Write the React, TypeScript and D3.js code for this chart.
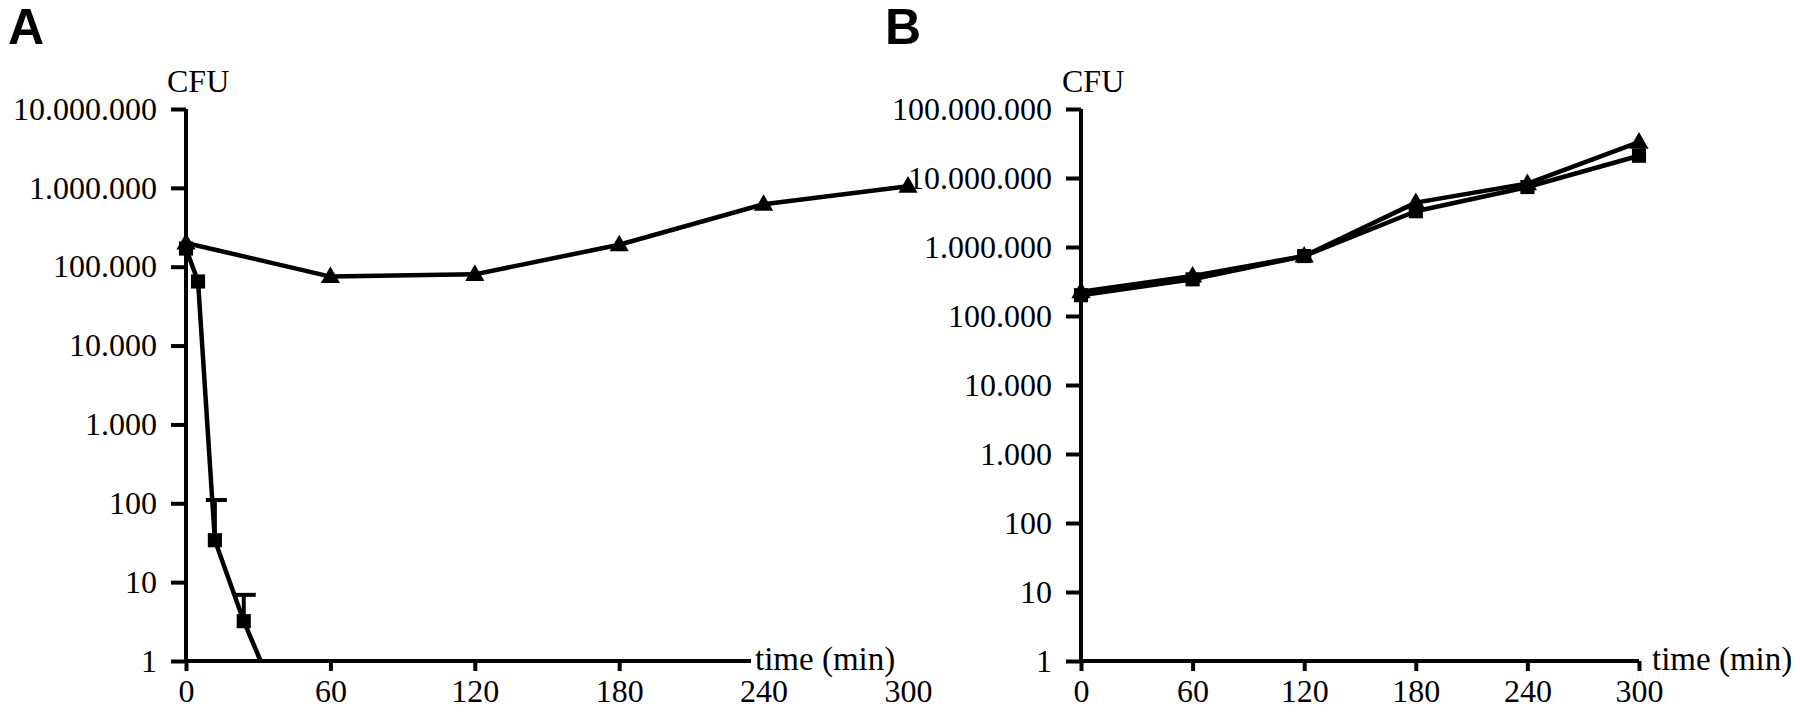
import * as d3 from "d3";
import { useEffect, useRef } from "react";

// x ticks (min) shared by both panels
const timeTicks = [0, 60, 120, 180, 240, 300];

// panel A
const triTimesA = [0, 60, 120, 180, 240, 300];
const triValuesA = [200000, 75000, 80000, 190000, 620000, 1050000];
const sqTimesA = [0, 5, 12, 24, 31];
const sqValuesA = [170000, 65000, 34, 3.2, 1];
const sqErrTopA = [0, 0, 110, 6.9, 0];
const yTicksA = [1, 10, 100, 1000, 10000, 100000, 1000000, 10000000];

// panel B
const timesB = [0, 60, 120, 180, 240, 300];
const triValuesB = [225000, 380000, 740000, 4400000, 8300000, 33000000];
const sqValuesB = [200000, 340000, 740000, 3300000, 7400000, 21000000];
const yTicksB = [1, 10, 100, 1000, 10000, 100000, 1000000, 10000000, 100000000];

const locale = d3.formatLocale({ decimal: ",", thousands: ".", grouping: [3], currency: ["", ""] });
const fmt = locale.format(",d");
const serif = "Liberation Serif, Times New Roman, serif";

export default function App() {
  const ref = useRef<SVGSVGElement>(null);

  useEffect(() => {
    const svg = d3.select(ref.current);
    svg.selectAll("*").remove();

    const top = 109, bottom = 661;

    function panel(opts: {
      letter: string; letterX: number; x0: number; x1: number; yMax: number; ticks: number[];
      timeX: number; knockout: boolean;
      series: { t: number[]; v: number[]; shape: string; err?: number[]; markN?: number }[];
    }) {
      const x = d3.scaleLinear().domain([0, 300]).range([opts.x0, opts.x1]);
      const y = d3.scaleLog().domain([1, opts.yMax]).range([bottom, top]);
      const g = svg.append("g");

      g.append("text").attr("x", opts.letterX).attr("y", 44)
        .attr("font-family", "Liberation Sans, Arial, sans-serif").attr("font-weight", "bold")
        .attr("font-size", 50).text(opts.letter);

      g.append("text").attr("x", opts.x0 - 19).attr("y", 92)
        .attr("font-family", serif).attr("font-size", 32).text("CFU");

      const ya = g.append("g").attr("transform", `translate(${opts.x0},0)`)
        .call(d3.axisLeft(y).tickValues(opts.ticks).tickSize(15).tickSizeOuter(0).tickPadding(14)
          .tickFormat(d => fmt(d as number)));
      const xa = g.append("g").attr("transform", `translate(0,${bottom})`)
        .call(d3.axisBottom(x).tickValues(timeTicks).tickSize(10).tickSizeOuter(0).tickPadding(8));

      [ya, xa].forEach(a => {
        a.select(".domain").attr("stroke", "#000").attr("stroke-width", 4);
        a.selectAll(".tick line").attr("stroke", "#000").attr("stroke-width", 4);
        a.selectAll(".tick text").attr("fill", "#000")
          .attr("font-family", serif).attr("font-size", 32);
      });
      ya.select(".domain").attr("d", `M0,${top}V${bottom + 2}`);
      xa.select(".domain").attr("d", `M${opts.x0 - 2},0H${opts.x1}`);

      opts.series.forEach(s => {
        const pts = s.t.map((t, i) => ({ t, v: s.v[i], e: s.err ? s.err[i] : 0 }));
        const line = d3.line<{ t: number; v: number }>().x(d => x(d.t)).y(d => y(d.v));
        g.append("path").attr("d", line(pts)).attr("fill", "none")
          .attr("stroke", "#000").attr("stroke-width", 4.5).attr("stroke-linejoin", "round");

        const marked = pts.slice(0, s.markN ?? pts.length);
        marked.filter(d => d.e > 0).forEach(d => {
          g.append("line").attr("x1", x(d.t)).attr("x2", x(d.t)).attr("y1", y(d.v)).attr("y2", y(d.e))
            .attr("stroke", "#000").attr("stroke-width", 4);
          g.append("line").attr("x1", x(d.t) - 9).attr("x2", x(d.t) + 12).attr("y1", y(d.e)).attr("y2", y(d.e))
            .attr("stroke", "#000").attr("stroke-width", 4);
        });
        const sym = s.shape === "tri"
          ? d3.symbol().type(d3.symbolTriangle).size(160)
          : d3.symbol().type(d3.symbolSquare).size(200);
        g.selectAll(null).data(marked).enter().append("path")
          .attr("d", sym() as string)
          .attr("transform", d => `translate(${x(d.t)},${y(d.v) + (s.shape === "tri" ? 1 : 0)})`)
          .attr("fill", "#000");
      });

      // axis title sits on the axis line; in A the text knocks out the line
      const tt = g.append("text").attr("x", opts.timeX).attr("y", bottom + 9)
        .attr("font-family", serif).attr("font-size", 33).text("time (min)");
      if (opts.knockout) {
        const bb = (tt.node() as SVGTextElement).getBBox();
        g.insert("rect", () => tt.node() as SVGTextElement)
          .attr("x", bb.x - 4).attr("y", bb.y + 4)
          .attr("width", opts.x1 + 3 - (bb.x - 4)).attr("height", bottom + 12 - (bb.y + 4))
          .attr("fill", "#fff");
      }
    }

    panel({
      letter: "A", letterX: 8, x0: 186, x1: 908, yMax: 10000000, ticks: yTicksA,
      timeX: 755, knockout: true,
      series: [
        { t: triTimesA, v: triValuesA, shape: "tri" },
        { t: sqTimesA, v: sqValuesA, shape: "sq", err: sqErrTopA, markN: 4 },
      ],
    });
    panel({
      letter: "B", letterX: 885, x0: 1081, x1: 1639, yMax: 100000000, ticks: yTicksB,
      timeX: 1652, knockout: false,
      series: [
        { t: timesB, v: triValuesB, shape: "tri" },
        { t: timesB, v: sqValuesB, shape: "sq" },
      ],
    });
  }, []);

  return (
    <svg ref={ref} width={1800} height={719}
      style={{ position: "absolute", left: 0, top: 0, background: "#fff" }} />
  );
}
